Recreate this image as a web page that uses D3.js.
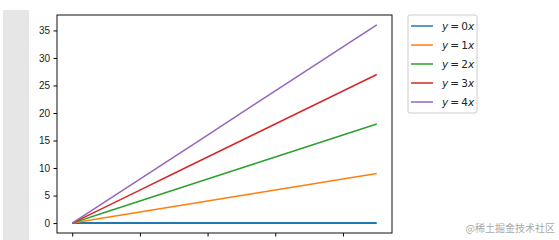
<!DOCTYPE html>
<html>
<head>
<meta charset="utf-8">
<script src="https://cdn.jsdelivr.net/npm/d3@7"></script>
<style>
  body { margin: 0; background: #fff; }
  svg { display: block; font-family: "DejaVu Sans", sans-serif; }
</style>
</head>
<body>
<svg id="chart"></svg>
<script>
// data
const xs = [0, 1, 2, 3, 4, 5, 6, 7, 8, 9];
const slopes = [0, 1, 2, 3, 4];
const colors = ["#1f77b4", "#ff7f0e", "#2ca02c", "#d62728", "#9467bd"];
const yTicks = [0, 5, 10, 15, 20, 25, 30, 35];
const xTicks = [0, 2, 4, 6, 8];

const width = 559, height = 240;
const svg = d3.select("#chart").attr("width", width).attr("height", height);

// grey strip on the left
svg.append("rect").attr("x", 3).attr("y", 10).attr("width", 26).attr("height", 230)
    .attr("fill", "#e6e6e6");

const box = { left: 57, top: 15, right: 392, bottom: 233 };

const x = d3.scaleLinear().domain([-0.45, 9.45]).range([box.left, box.right]);
const y = d3.scaleLinear().domain([-1.8, 37.8]).range([box.bottom, box.top]);

// axes
svg.append("g")
    .attr("transform", `translate(${box.left},0)`)
    .call(d3.axisLeft(y).tickValues(yTicks).tickSize(3.5).tickPadding(3.5))
    .call(g => g.select(".domain").remove())
    .call(g => g.selectAll("text").attr("font-size", 10).attr("fill", "#222"));

// x tick labels fall below the cropped picture, so only the marks show
svg.append("g")
    .attr("transform", `translate(0,${box.bottom})`)
    .call(d3.axisBottom(x).tickValues(xTicks).tickSize(3.5).tickFormat(""))
    .call(g => g.select(".domain").remove());

// lines
const line = k => d3.line().x(d => x(d)).y(d => y(k * d));
svg.append("g").selectAll("path")
    .data(slopes)
    .join("path")
    .attr("d", k => line(k)(xs))
    .attr("fill", "none")
    .attr("stroke", (k, i) => colors[i])
    .attr("stroke-width", (k, i) => i === 0 ? 2 : 1.5);

// frame
svg.append("rect")
    .attr("x", box.left).attr("y", box.top)
    .attr("width", box.right - box.left).attr("height", box.bottom - box.top)
    .attr("fill", "none").attr("stroke", "#111").attr("stroke-width", 1);

// legend
const lg = svg.append("g").attr("transform", "translate(408,15)");
lg.append("rect").attr("width", 69).attr("height", 98).attr("rx", 2)
    .attr("fill", "#fff").attr("stroke", "#ccc").attr("stroke-width", 1);
const items = lg.selectAll("g.item").data(slopes).join("g")
    .attr("class", "item")
    .attr("transform", (k, i) => `translate(0,${11 + i * 19})`);
items.append("line").attr("x1", 3).attr("x2", 25)
    .attr("stroke", (k, i) => colors[i]).attr("stroke-width", 1.5);
const t = items.append("text").attr("x", 34).attr("y", 4)
    .attr("font-size", 10.5).attr("fill", "#222");
t.append("tspan").attr("font-style", "italic").text("y");
t.append("tspan").text("\u2009=\u2009");
t.append("tspan").text(k => k);
t.append("tspan").attr("font-style", "italic").text("x");

// watermark
svg.append("text").attr("x", 555).attr("y", 232).attr("text-anchor", "end")
    .attr("font-size", 10).attr("fill", "#aaa")
    .attr("font-family", "Noto Sans CJK SC")
    .text("@稀土掘金技术社区");
</script>
</body>
</html>
